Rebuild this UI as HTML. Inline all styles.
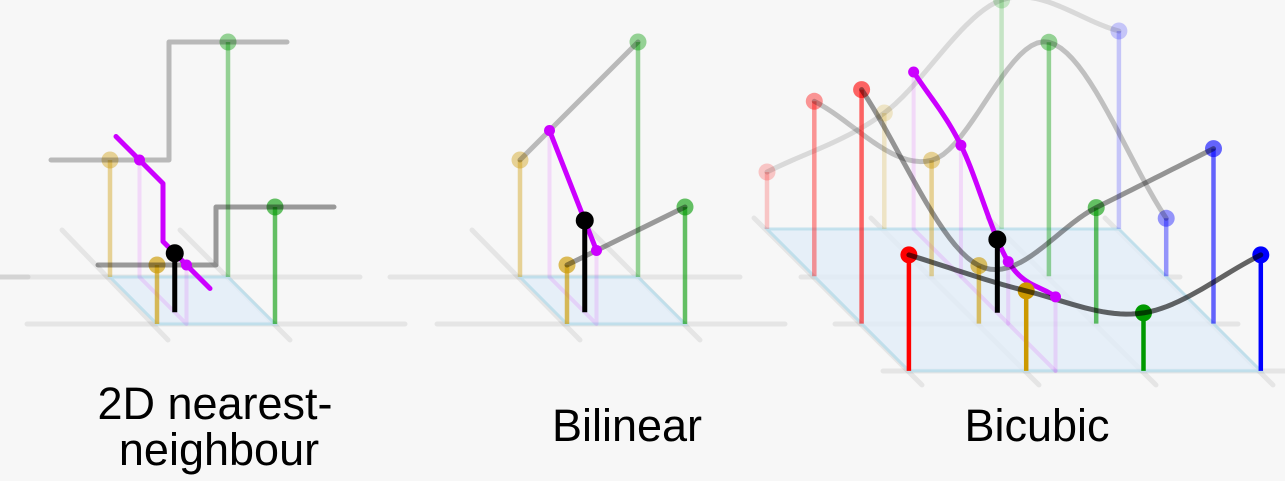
<!DOCTYPE html>
<html><head><meta charset="utf-8"><style>
html,body{margin:0;padding:0;background:#f7f7f7;}
svg{display:block;}
text{font-family:"Liberation Sans",sans-serif;font-size:45px;fill:#000;}
</style></head><body>
<svg id="c" width="1285" height="481" viewBox="0 0 1285 481" xmlns="http://www.w3.org/2000/svg">
<g id="grid"></g><g id="marks"></g>
<text x="215" y="419" text-anchor="middle">2D nearest-</text>
<text x="219" y="465" text-anchor="middle">neighbour</text>
<text x="627" y="441" text-anchor="middle">Bilinear</text>
<text x="1037" y="441" text-anchor="middle">Bicubic</text>
</svg>
<script>
// 2x2 sample values (height above ground), rows back->front, cols left->right
const nnBack = [117, 235];
const nnFront = [59, 117];
const blBack = [117, 235];
const blFront = [59, 117];
// 4x4 bicubic values
const bcRow0 = [57, 116, 229, 198];
const bcRow1 = [175, 116, 234, 58];
const bcRow2 = [234, 58, 116, 175];
const bcRow3 = [116, 80, 58, 116];
// interpolated column values at the sample column
const bcColumn = [157, 131, 62, 74];
const sampleI = 0.25;
const sampleJ = 0.75;
const bcSampleI = 1.25;
const bcSampleJ = 1.77;

const NS='http://www.w3.org/2000/svg';
const grid=document.getElementById('grid'), marks=document.getElementById('marks');
function mk(parent,tag,attrs,name){const e=document.createElementNS(NS,tag);for(const k in attrs)e.setAttribute(k,attrs[k]);


parent.appendChild(e);return e;}
function P(o,i,j,z){return [o.x+i*o.dx+j*o.dj, o.y+j*o.dj-z];}
const yellow='#cc9900',green='#009900',red='#ff0000',blue='#0000ff';

function groundLines(lines){lines.forEach(l=>mk(grid,'line',{x1:l[0],y1:l[1],x2:l[2],y2:l[3],stroke:'#000','stroke-opacity':0.07,'stroke-width':5,'stroke-linecap':'round'},'grid-line'));}
groundLines([[0,277,360,277],[390,277,740,277],[27,324,405,324],[437,324,785,324],
[62,230,168,340],[180,230,290,340],[472,230,580,340],[590,230,700,340],
[0,277,28,277],[801,277,1180,277],[835,324,1238,324],[883,371,1285,371],
[754,218,922,385],[871,218,1039,385],[988,218,1156,385],[1105,218,1273,385]]);

function plane(o,n,name){const a=P(o,0,0,0),b=P(o,n,0,0),c=P(o,n,n,0),d=P(o,0,n,0);
mk(marks,'polygon',{points:[a,b,c,d].map(p=>p.join(',')).join(' '),fill:'#e0ecf8','fill-opacity':0.75,stroke:'#b8dcea','stroke-width':3,'stroke-opacity':0.8},name);}
function stem(o,i,j,z,col,op,name){const t=P(o,i,j,z),b=P(o,i,j,0);
mk(marks,'line',{x1:b[0],y1:b[1],x2:t[0],y2:t[1],stroke:col,'stroke-opacity':op,'stroke-width':4.5},name+'-stem');
mk(marks,'circle',{cx:t[0],cy:t[1],r:8.5,fill:col,'fill-opacity':op},name+'-point');}
function poly(pts,col,op,w,name){mk(marks,'polyline',{points:pts.map(p=>p.join(',')).join(' '),fill:'none',stroke:col,'stroke-opacity':op,'stroke-width':w,'stroke-linejoin':'round','stroke-linecap':'round'},name);}
function blackPt(o,i,j,z,name){const t=P(o,i,j,z),b=P(o,i,j,0);
mk(marks,'line',{x1:b[0],y1:b[1],x2:t[0],y2:t[1],stroke:'#000','stroke-width':5},name+'-stem');
mk(marks,'circle',{cx:t[0],cy:t[1],r:9,fill:'#000'},name);}
function dot(p,name){mk(marks,'circle',{cx:p[0],cy:p[1],r:5.5,fill:'#cc00ff'},name);}

// ---- Nearest ----
(function(){const o={x:110,y:277,dx:118,dj:47};plane(o,1,'nearest-grid-cell');
const zb=nnBack,zf=nnFront,ci=sampleI;
poly([P(o,ci,0,zb[0]),P(o,ci,0,0),P(o,ci,1,0),P(o,ci,1,zf[0])],'#cc00ff',0.12,4,'nearest-sample-guide');
stem(o,0,0,zb[0],yellow,0.4,'nearest-back-left');stem(o,1,0,zb[1],green,0.4,'nearest-back-right');
poly([P(o,-0.5,0,zb[0]),P(o,0.5,0,zb[0]),P(o,0.5,0,zb[1]),P(o,1.5,0,zb[1])],'#000',0.25,5,'nearest-back-step');
const v=j=>j<0.5?zb[0]:zf[0];
poly([P(o,ci,-0.5,zb[0]),P(o,ci,0.5,zb[0]),P(o,ci,0.5,zf[0]),P(o,ci,1.5,zf[0])],'#cc00ff',1,5,'nearest-column-line');
stem(o,0,1,zf[0],yellow,0.65,'nearest-front-left');stem(o,1,1,zf[1],green,0.6,'nearest-front-right');
poly([P(o,-0.5,1,zf[0]),P(o,0.5,1,zf[0]),P(o,0.5,1,zf[1]),P(o,1.5,1,zf[1])],'#000',0.38,5,'nearest-front-step');
dot(P(o,ci,0,zb[0]),'nearest-column-point-back');dot(P(o,ci,1,zf[0]),'nearest-column-point-front');
blackPt(o,ci,sampleJ,v(sampleJ),'nearest-result-point');})();

// ---- Bilinear ----
(function(){const o={x:520,y:277,dx:118,dj:47};plane(o,1,'bilinear-grid-cell');
const zb=blBack,zf=blFront,ci=sampleI;
const a=zb[0]+(zb[1]-zb[0])*ci,b=zf[0]+(zf[1]-zf[0])*ci;
poly([P(o,ci,0,a),P(o,ci,0,0),P(o,ci,1,0),P(o,ci,1,b)],'#cc00ff',0.12,4,'bilinear-sample-guide');
stem(o,0,0,zb[0],yellow,0.4,'bilinear-back-left');stem(o,1,0,zb[1],green,0.4,'bilinear-back-right');
poly([P(o,0,0,zb[0]),P(o,1,0,zb[1])],'#000',0.25,5,'bilinear-back-line');
poly([P(o,ci,0,a),P(o,ci,1,b)],'#cc00ff',1,5,'bilinear-column-line');
stem(o,0,1,zf[0],yellow,0.65,'bilinear-front-left');stem(o,1,1,zf[1],green,0.6,'bilinear-front-right');
poly([P(o,0,1,zf[0]),P(o,1,1,zf[1])],'#000',0.38,5,'bilinear-front-line');
dot(P(o,ci,0,a),'bilinear-column-point-back');dot(P(o,ci,1,b),'bilinear-column-point-front');
blackPt(o,ci,sampleJ,a+(b-a)*sampleJ,'bilinear-result-point');})();

// ---- Bicubic ----
(function(){const o={x:767,y:229,dx:117.3,dj:47.3};plane(o,3,'bicubic-grid');
const rows=[bcRow0,bcRow1,bcRow2,bcRow3];
function cr(v,t){const n=v.length;let k=Math.min(Math.floor(t),n-2);if(k<0)k=0;const s=t-k;
const p1=v[k],p2=v[k+1];
const q0=k-1<0?2*p1-p2:v[k-1],q3=k+2>n-1?2*p2-p1:v[k+2];
return 0.5*((2*p1)+(-q0+p2)*s+(2*q0-5*p1+4*p2-q3)*s*s+(-q0+3*p1-3*p2+q3)*s*s*s);}
const cols=[red,yellow,green,blue],ops=[0.2,0.4,0.6,1],lineOps=[0.12,0.22,0.4,0.6];
const colVals=bcColumn;
for(let j=0;j<4;j++){poly([P(o,bcSampleI,j,colVals[j]),P(o,bcSampleI,j,0)].concat(j<3?[P(o,bcSampleI,j+1,0)]:[]),'#cc00ff',0.12,4,'bicubic-sample-guide-'+j);}
const colPts=[];for(let t=0;t<=3.0001;t+=0.05)colPts.push(P(o,bcSampleI,t,cr(colVals,t)));
for(let j=0;j<4;j++){
 rows[j].forEach((z,i)=>stem(o,i,j,z,cols[i],ops[j],'bicubic-r'+j+'-c'+i));
 const pts=[];for(let t=0;t<=3.0001;t+=0.05)pts.push(P(o,t,j,cr(rows[j],t)));
 poly(pts,'#000',lineOps[j],5,'bicubic-row-curve-'+j);
 if(j==1){poly(colPts,'#cc00ff',1,5,'bicubic-column-curve');}
}
colVals.forEach((z,j)=>dot(P(o,bcSampleI,j,z),'bicubic-column-point-'+j));
blackPt(o,bcSampleI,bcSampleJ,cr(colVals,bcSampleJ),'bicubic-result-point');
})();
</script>
</body></html>
